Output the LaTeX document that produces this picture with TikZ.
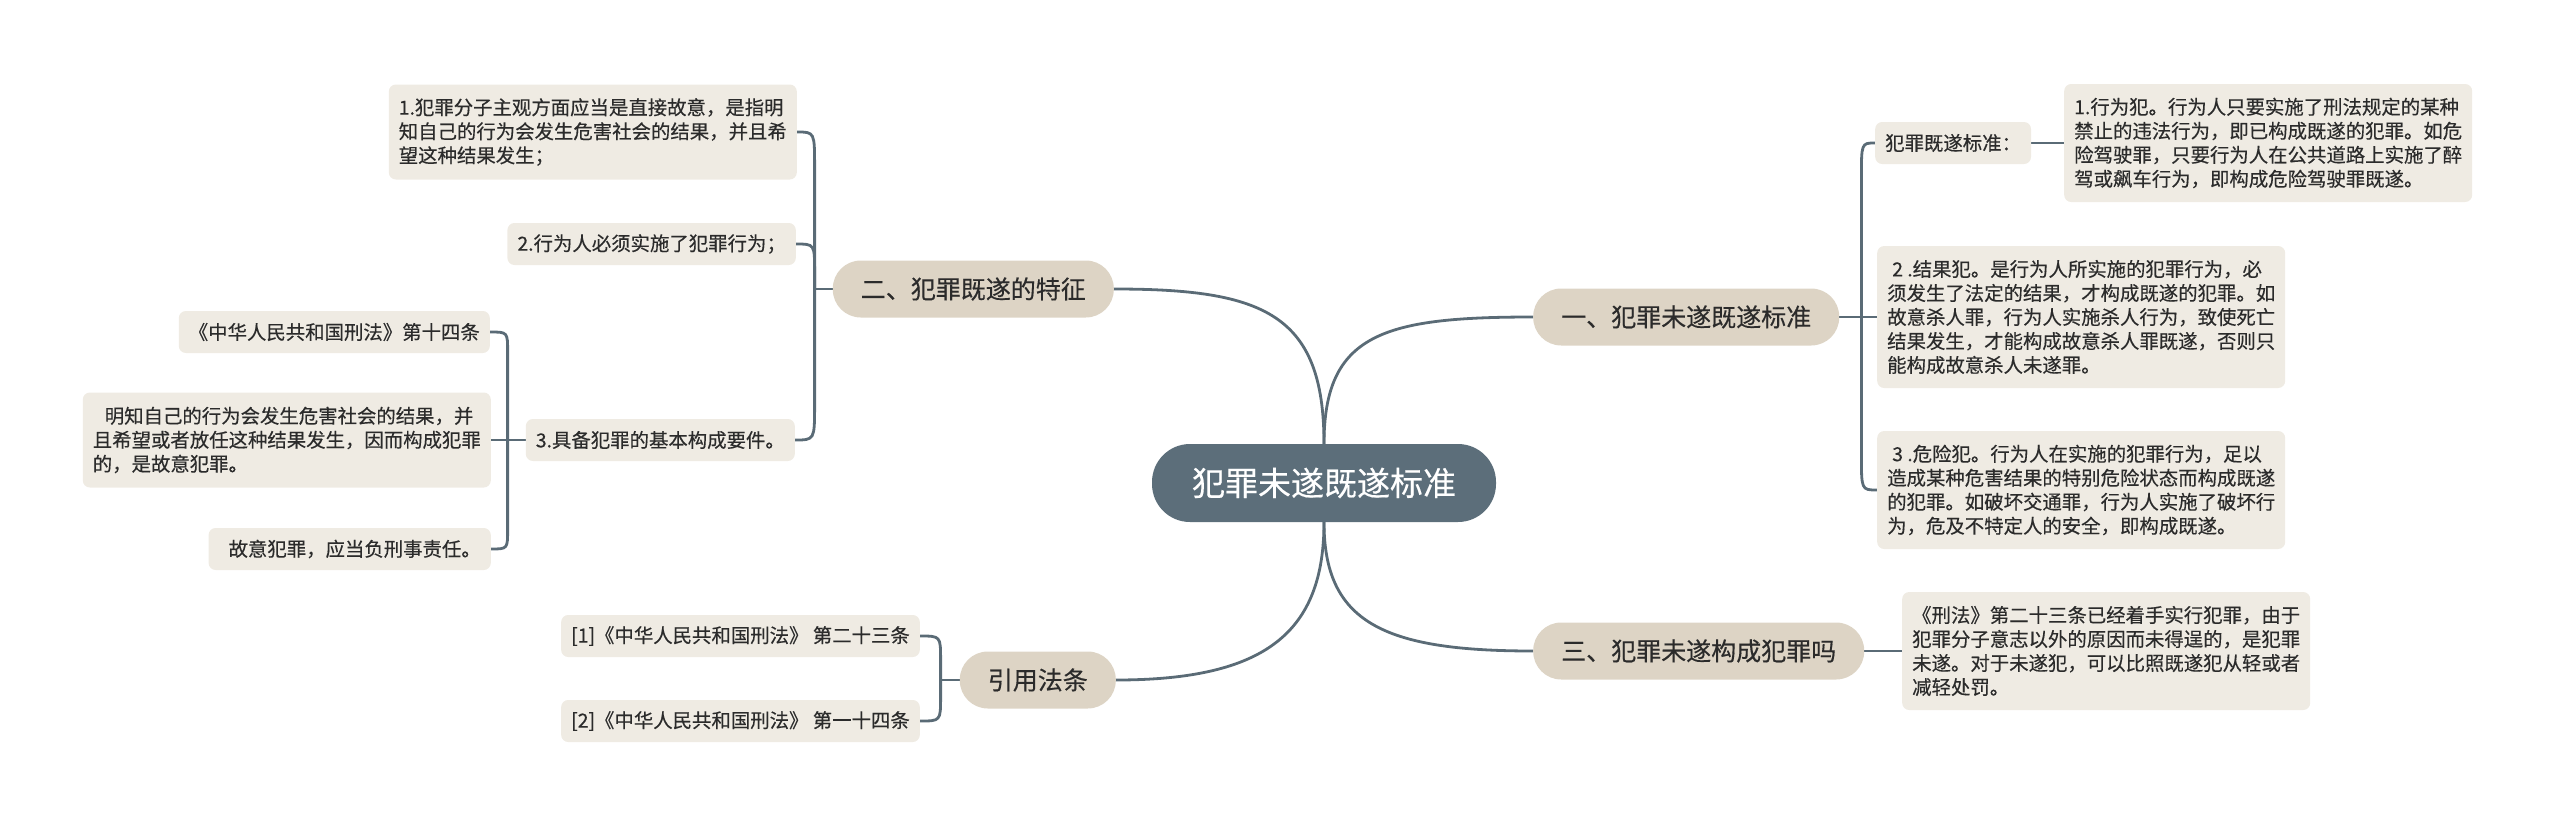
\documentclass[tikz,border=0pt]{standalone}
\usepackage{fontspec}
\setmainfont{Noto Sans CJK SC}[FakeBold=0.35]
\usetikzlibrary{calc,backgrounds}
\definecolor{rootfill}{HTML}{5C6E7A}
\definecolor{pillfill}{HTML}{DDD4C5}
\definecolor{leaffill}{HTML}{EFEBE3}
\definecolor{linec}{HTML}{5A6B76}
\definecolor{txt}{HTML}{2B2B2B}
\begin{document}
\begin{tikzpicture}[x=1pt,y=-1pt,
  mroot/.style={fill=rootfill, text=white, rounded corners=38, minimum height=78, inner xsep=40, inner ysep=0, font=\fontsize{33}{40}\selectfont},
  mpill/.style={fill=pillfill, text=txt, rounded corners=28, minimum height=57, inner xsep=28, inner ysep=0, font=\fontsize{25}{30}\selectfont},
  mleaf/.style={fill=leaffill, text=txt, rounded corners=7, inner xsep=10, inner ysep=0, align=left, font=\fontsize{19.4}{24}\selectfont},
  mconn/.style={draw=linec, line width=2.8, line cap=round},
]
\useasboundingbox (0,0) rectangle (2560,830);

% root and main branches
\node[mroot] (R) at (1324,483) {犯罪未遂既遂标准};
\node[mpill, anchor=west] (P1) at (1533,317) {一、犯罪未遂既遂标准};
\node[mpill, anchor=east] (P2) at (1114,289) {二、犯罪既遂的特征};
\node[mpill, anchor=west] (P3) at (1533,651) {三、犯罪未遂构成犯罪吗};
\node[mpill, anchor=east] (P4) at (1116,680) {引用法条};

% left leaves
\node[mleaf, anchor=east, minimum height=95] (A1) at (797,132) {1.犯罪分子主观方面应当是直接故意，是指明\\知自己的行为会发生危害社会的结果，并且希\\望这种结果发生；};
\node[mleaf, anchor=east, minimum height=42] (A2) at (796,244) {2.行为人必须实施了犯罪行为；};
\node[mleaf, anchor=east, minimum height=42] (A3) at (795,440) {3.具备犯罪的基本构成要件。};
\node[mleaf, anchor=east, minimum height=42] (B1) at (490,332) {《中华人民共和国刑法》第十四条};
\node[mleaf, anchor=east, minimum height=95] (B2) at (491,440) {\hspace*{12pt}明知自己的行为会发生危害社会的结果，并\\且希望或者放任这种结果发生，因而构成犯罪\\的，是故意犯罪。};
\node[mleaf, anchor=east, minimum height=42] (B3) at (491,549) {\hspace*{10pt}故意犯罪，应当负刑事责任。};
\node[mleaf, anchor=east, minimum height=42] (C1) at (920,636) {[1]《中华人民共和国刑法》 第二十三条};
\node[mleaf, anchor=east, minimum height=42] (C2) at (920,721) {[2]《中华人民共和国刑法》 第一十四条};

% right leaves
\node[mleaf, anchor=west, minimum height=42] (D1) at (1875,143) {犯罪既遂标准：};
\node[mleaf, anchor=west, minimum height=118] (E1) at (2064,143) {1.行为犯。行为人只要实施了刑法规定的某种\\禁止的违法行为，即已构成既遂的犯罪。如危\\险驾驶罪，只要行为人在公共道路上实施了醉\\驾或飙车行为，即构成危险驾驶罪既遂。};
\node[mleaf, anchor=west, minimum height=142] (D2) at (1877,317) {\hspace*{5pt}2 .结果犯。是行为人所实施的犯罪行为，必\\须发生了法定的结果，才构成既遂的犯罪。如\\故意杀人罪，行为人实施杀人行为，致使死亡\\结果发生，才能构成故意杀人罪既遂，否则只\\能构成故意杀人未遂罪。};
\node[mleaf, anchor=west, minimum height=118] (D3) at (1877,490) {\hspace*{5pt}3 .危险犯。行为人在实施的犯罪行为，足以\\造成某种危害结果的特别危险状态而构成既遂\\的犯罪。如破坏交通罪，行为人实施了破坏行\\为，危及不特定人的安全，即构成既遂。};
\node[mleaf, anchor=west, minimum height=118] (F1) at (1902,651) {《刑法》第二十三条已经着手实行犯罪，由于\\犯罪分子意志以外的原因而未得逞的，是犯罪\\未遂。对于未遂犯，可以比照既遂犯从轻或者\\减轻处罚。};

\begin{pgfonlayer}{background}
% root connectors
\draw[mconn] (R.north) .. controls +(0,-110) and +(-150,0) .. (P1.west);
\draw[mconn] (R.north) .. controls +(0,-130) and +(150,0) .. (P2.east);
\draw[mconn] (R.south) .. controls +(0,110) and +(150,0) .. (P4.east);
\draw[mconn] (R.south) .. controls +(0,100) and +(-150,0) .. (P3.west);

% branch one
\coordinate (b1) at ($(P1.east)+(22,0)$);
\draw[mconn] (P1.east) -- (D2.west);
\draw[mconn] (b1) -- ($(b1|-D1.west)+(0,35)$) .. controls (b1|-D1.west) .. (D1.west);
\draw[mconn] (b1) -- ($(b1|-D3.west)+(0,-35)$) .. controls (b1|-D3.west) .. (D3.west);
\draw[mconn] (D1.east) -- (E1.west);

% branch two
\coordinate (b2) at ($(P2.west)+(-18,0)$);
\draw[mconn] (P2.west) -- (b2);
\draw[mconn] (b2) -- ($(b2|-A1.east)+(0,35)$) .. controls (b2|-A1.east) .. (A1.east);
\draw[mconn] (b2) -- ($(b2|-A2.east)+(0,28)$) .. controls (b2|-A2.east) .. (A2.east);
\draw[mconn] (b2) -- ($(b2|-A3.east)+(0,-35)$) .. controls (b2|-A3.east) .. (A3.east);

% sub-branch 3
\coordinate (b3) at ($(A3.west)+(-18,0)$);
\draw[mconn] (A3.west) -- (B2.east);
\draw[mconn] (b3) -- ($(b3|-B1.east)+(0,20)$) .. controls (b3|-B1.east) .. (B1.east);
\draw[mconn] (b3) -- ($(b3|-B3.east)+(0,-20)$) .. controls (b3|-B3.east) .. (B3.east);

% branch three
\draw[mconn] (P3.east) -- (F1.west);

% references
\coordinate (b4) at ($(P4.west)+(-19,0)$);
\draw[mconn] (P4.west) -- (b4);
\draw[mconn] (b4) -- ($(b4|-C1.east)+(0,24)$) .. controls (b4|-C1.east) .. (C1.east);
\draw[mconn] (b4) -- ($(b4|-C2.east)+(0,-24)$) .. controls (b4|-C2.east) .. (C2.east);
\end{pgfonlayer}
\end{tikzpicture}
\end{document}
